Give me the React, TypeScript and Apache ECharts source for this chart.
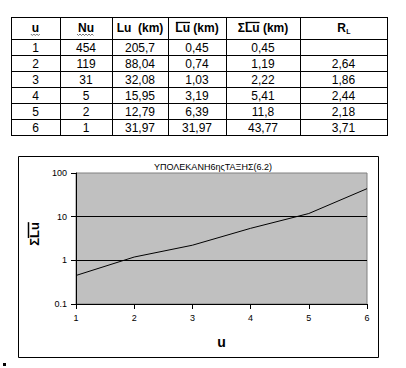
import React, { useEffect, useRef } from "react";
import * as echarts from "echarts";

// ---- data ----
const orders = [1, 2, 3, 4, 5, 6];
const nuValues = [454, 119, 31, 5, 2, 1];
const luText = ["205,7", "88,04", "32,08", "15,95", "12,79", "31,97"];
const luMeanText = ["0,45", "0,74", "1,03", "3,19", "6,39", "31,97"];
const sumLuText = ["0,45", "1,19", "2,22", "5,41", "11,8", "43,77"];
const rlText = ["", "2,64", "1,86", "2,44", "2,18", "3,71"];
const sumLuValues = [0.45, 1.19, 2.22, 5.41, 11.8, 43.77];
const chartTitle = "ΥΠΟΛΕΚΑΝΗ6ηςΤΑΞΗΣ(6.2)";
const yTicks = [0.1, 1, 10, 100];

const FONT = '"Liberation Sans", Arial, sans-serif';

export default function App() {
  const ref = useRef<HTMLDivElement>(null);

  useEffect(() => {
    document.body.style.margin = "0";
    if (!ref.current) return;
    const chart = echarts.init(ref.current, null, { renderer: "svg" });

    const cv = document.createElement("canvas");
    const ctx = cv.getContext("2d")!;
    const measure = (t: string, font: string) => {
      ctx.font = font;
      return ctx.measureText(t).width;
    };
    const HF = 'bold 12px "Liberation Sans"';

    const colX = [11, 60, 112, 168, 226, 300, 387];
    const rowY = [17, 39, 55, 71, 87, 103, 119, 135];
    const cx = colX.slice(0, -1).map((x, i) => (x + colX[i + 1]) / 2);
    const cy = rowY.slice(0, -1).map((y, i) => (y + rowY[i + 1]) / 2);

    const g: any[] = [];
    // table lines
    colX.forEach((x) =>
      g.push({
        type: "line",
        shape: { x1: x + 0.5, y1: rowY[0], x2: x + 0.5, y2: rowY[rowY.length - 1] + 1 },
        style: { stroke: "#000", lineWidth: 1 },
      })
    );
    rowY.forEach((y) =>
      g.push({
        type: "line",
        shape: { x1: colX[0], y1: y + 0.5, x2: colX[colX.length - 1] + 1, y2: y + 0.5 },
        style: { stroke: "#000", lineWidth: 1 },
      })
    );

    const headText = (t: string, x: number, y: number) =>
      g.push({
        type: "text",
        x,
        y,
        style: { text: t, font: `bold 12px ${FONT}`, fill: "#000", align: "center", verticalAlign: "middle" },
      });
    const hy = cy[0];
    // u
    headText("u", cx[0], hy);
    // Nu
    headText("Nu", cx[1], hy);
    const wavy = (x0: number, x1: number, y: number) => {
      const pts: number[][] = [];
      let up = true;
      for (let x = x0; x <= x1; x += 1.5) {
        pts.push([x, up ? y : y + 1.5]);
        up = !up;
      }
      g.push({ type: "polyline", shape: { points: pts }, style: { stroke: "#555", lineWidth: 0.8, fill: "none" } });
    };
    const wu = measure("u", HF);
    wavy(cx[0] - wu / 2 - 1, cx[0] + wu / 2 + 1, hy + 6);
    const wnu = measure("Nu", HF);
    wavy(cx[1] - wnu / 2 - 1, cx[1] + wnu / 2 + 1, hy + 6);
    // Lu (km)
    headText("Lu  (km)", cx[2], hy);
    // mean Lu (km)
    const t3 = "Lu (km)";
    const w3 = measure(t3, HF);
    const wLu = measure("Lu", HF);
    const x3 = cx[3] - w3 / 2;
    headText(t3, cx[3], hy);
    g.push({
      type: "line",
      shape: { x1: x3 + 0.5, y1: hy - 5.5, x2: x3 + wLu, y2: hy - 5.5 },
      style: { stroke: "#000", lineWidth: 1.3 },
    });
    // sum mean Lu (km)
    const t4 = "ΣLu (km)";
    const w4 = measure(t4, HF);
    const wS = measure("Σ", HF);
    const x4 = cx[4] - w4 / 2;
    headText(t4, cx[4], hy);
    g.push({
      type: "line",
      shape: { x1: x4 + wS + 0.5, y1: hy - 5.5, x2: x4 + wS + wLu, y2: hy - 5.5 },
      style: { stroke: "#000", lineWidth: 1.3 },
    });
    // R_L
    g.push({
      type: "text",
      x: cx[5] - 2,
      y: hy,
      style: { text: "R", font: `bold 12px ${FONT}`, fill: "#000", align: "center", verticalAlign: "middle" },
    });
    g.push({
      type: "text",
      x: cx[5] + 5,
      y: hy + 3,
      style: { text: "L", font: `bold 7px ${FONT}`, fill: "#000", align: "center", verticalAlign: "middle" },
    });

    // body cells
    const cols = [orders.map(String), nuValues.map(String), luText, luMeanText, sumLuText, rlText];
    cols.forEach((col, ci) =>
      col.forEach((t, ri) => {
        if (!t) return;
        g.push({
          type: "text",
          x: cx[ci],
          y: cy[ri + 1] + 0.5,
          style: { text: t, font: `12px ${FONT}`, fill: "#000", align: "center", verticalAlign: "middle" },
        });
      })
    );

    // chart frame
    g.push({
      type: "rect",
      shape: { x: 18.5, y: 156.5, width: 360, height: 201 },
      style: { stroke: "#000", lineWidth: 1, fill: "none" },
      z: -1,
    });
    g.push({ type: "rect", shape: { x: 3, y: 363, width: 3, height: 3 }, style: { fill: "#000" } });

    // y axis name with overline
    const YF = 'bold 13px "Liberation Sans"';
    const yt = "ΣLu";
    const wy = measure(yt, YF);
    const wyS = measure("Σ", YF);
    const ycx = 34;
    const ycy = 234;
    g.push({
      type: "text",
      x: ycx,
      y: ycy,
      rotation: Math.PI / 2,
      style: { text: yt, font: `bold 13px ${FONT}`, fill: "#000", align: "center", verticalAlign: "middle" },
    });
    g.push({
      type: "line",
      shape: { x1: ycx - 5.5, y1: ycy - wy / 2, x2: ycx - 5.5, y2: ycy + wy / 2 - wyS },
      style: { stroke: "#000", lineWidth: 1.5 },
    });

    chart.setOption({
      animation: false,
      title: {
        text: chartTitle,
        left: 208,
        top: 157,
        textAlign: "center",
        textStyle: { fontSize: 9, fontWeight: "normal", color: "#000", fontFamily: FONT },
      },
      grid: {
        left: 76,
        right: 39,
        top: 173,
        bottom: 64,
        show: true,
        backgroundColor: "#c0c0c0",
        borderColor: "#808080",
        borderWidth: 1,
      },
      xAxis: {
        type: "value",
        min: 1,
        max: 6,
        interval: 1,
        name: "u",
        nameLocation: "middle",
        nameGap: 31,
        nameTextStyle: { fontSize: 14, fontWeight: "bold", color: "#000", fontFamily: FONT },
        axisLine: { show: true, lineStyle: { color: "#000" } },
        axisTick: { show: true, length: 5, lineStyle: { color: "#000" } },
        axisLabel: { fontSize: 9, color: "#000", margin: 9, fontFamily: FONT },
        splitLine: { show: false },
      },
      yAxis: {
        type: "log",
        logBase: 10,
        min: yTicks[0],
        max: yTicks[yTicks.length - 1],
        axisLine: { show: true, lineStyle: { color: "#000" } },
        axisTick: { show: true, length: 5, lineStyle: { color: "#000" } },
        axisLabel: {
          fontSize: 9,
          color: "#000",
          margin: 9,
          fontFamily: FONT,
          formatter: (v: number) => String(+v.toPrecision(3)),
        },
        splitLine: { show: true, showMinLine: false, showMaxLine: false, lineStyle: { color: "#000", width: 1 } },
      },
      series: [
        {
          type: "line",
          data: orders.map((u, i) => [u, sumLuValues[i]]),
          showSymbol: false,
          lineStyle: { color: "#000", width: 1 },
          silent: true,
        },
      ],
      graphic: g,
    });

    return () => chart.dispose();
  }, []);

  return <div ref={ref} style={{ width: 406, height: 368, background: "#fff" }} />;
}
